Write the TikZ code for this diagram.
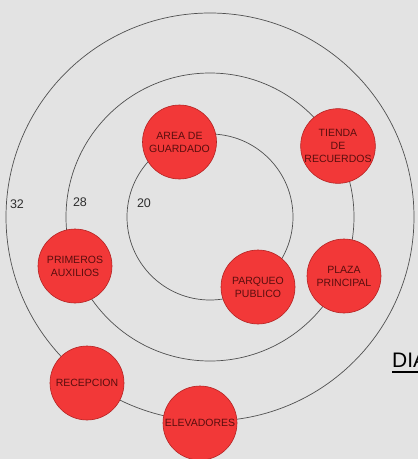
\documentclass[tikz,border=0pt]{standalone}
\usepackage{fontspec}
\setmainfont{Liberation Sans}
\definecolor{bg}{HTML}{E3E3E3}
\definecolor{redfill}{HTML}{F23838}
\definecolor{redline}{HTML}{B52222}
\definecolor{redtext}{HTML}{5A0E0E}
\definecolor{ringcol}{HTML}{505050}
\definecolor{numcol}{HTML}{2E2E2E}
\tikzset{
  place/.style={circle, fill=redfill, draw=redline, line width=0.6pt, minimum size=74pt, inner sep=0pt,
    align=center, text=redtext, font=\fontsize{10.5}{13}\selectfont},
  ring/.style={draw=ringcol, line width=0.7pt},
  ringnum/.style={text=numcol, font=\fontsize{12.5}{14}\selectfont, inner sep=0pt}
}
\begin{document}
\begin{tikzpicture}[x=1pt,y=-1pt]
\useasboundingbox (0,0) rectangle (418,459);
\clip (0,0) rectangle (418,459);
\fill[bg] (0,0) rectangle (418,459);
\coordinate (c) at (210,217);
\draw[ring] (c) circle (204);
\draw[ring] (c) circle (144);
\draw[ring] (c) circle (83);
\node[ringnum] (n32) at (17,204) {32};
\node[ringnum] (n28) at (80,202) {28};
\node[ringnum] (n20) at (144,203) {20};
\node[place] (area) at (179.5,142) {AREA DE\\GUARDADO};
\node[place] (tienda) at (338,146) {TIENDA\\DE\\RECUERDOS};
\node[place] (primeros) at (75,266) {PRIMEROS\\AUXILIOS};
\node[place] (parqueo) at (258,287) {PARQUEO\\PUBLICO};
\node[place] (plaza) at (344,276) {PLAZA\\PRINCIPAL};
\node[place] (recepcion) at (87,383) {RECEPCION};
\node[place] (elevadores) at (200,423) {ELEVADORES};
\node[anchor=base west, inner sep=0pt, text=black, font=\fontsize{21}{24}\selectfont] (dia) at (392,367) {DIA};
\draw[line width=2pt, black] (dia.base west) ++(0,5) -- ++(40,0);
\end{tikzpicture}
\end{document}
